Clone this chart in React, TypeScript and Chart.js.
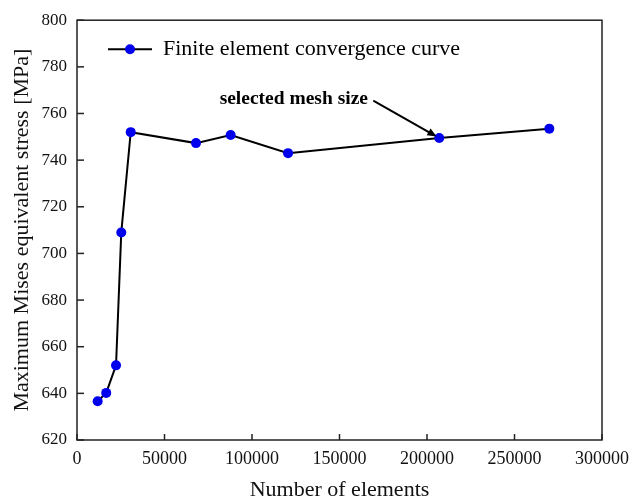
import React, { useEffect, useRef } from "react";
import { Chart, registerables } from "chart.js";

Chart.register(...registerables);

const elementCounts = [11800, 16700, 22300, 25300, 30700, 68000, 87800, 120600, 207000, 269900];
const stressValues = [636.6, 640.2, 652.0, 709.0, 752.0, 747.3, 750.8, 743.0, 749.5, 753.5];
const seriesLabel = "Finite element convergence curve";
const annotationText = "selected mesh size";
const annotationIndex = 8;
const annotationTextAt = { x: 81500, y: 764.2 };
const arrowStartAt = { x: 169300, y: 765.5 };
const xTitle = "Number of elements";
const yTitle = "Maximum Mises equivalent stress [MPa]";

const SERIF = "'Liberation Serif', 'Times New Roman', serif";

const framePlugin = {
  id: "frameAndExtras",
  afterDraw(chart: any) {
    const { ctx, chartArea, scales } = chart;
    const xs = scales.x;
    const ys = scales.y;
    ctx.save();
    ctx.strokeStyle = "#222";
    ctx.lineWidth = 1.5;
    ctx.strokeRect(chartArea.left, chartArea.top, chartArea.right - chartArea.left, chartArea.bottom - chartArea.top);
    // inward ticks
    ctx.lineWidth = 1.5;
    xs.ticks.forEach((t: any) => {
      const px = xs.getPixelForValue(t.value);
      ctx.beginPath();
      ctx.moveTo(px, chartArea.bottom);
      ctx.lineTo(px, chartArea.bottom - 6);
      ctx.stroke();
    });
    ys.ticks.forEach((t: any) => {
      const py = ys.getPixelForValue(t.value);
      ctx.beginPath();
      ctx.moveTo(chartArea.left, py);
      ctx.lineTo(chartArea.left + 7, py);
      ctx.stroke();
    });
    // legend
    const ly = chartArea.top + 29;
    const lx0 = chartArea.left + 31;
    ctx.strokeStyle = "#000";
    ctx.lineWidth = 2;
    ctx.beginPath();
    ctx.moveTo(lx0, ly);
    ctx.lineTo(lx0 + 44, ly);
    ctx.stroke();
    ctx.fillStyle = "#0000ee";
    ctx.beginPath();
    ctx.arc(lx0 + 22, ly, 5, 0, Math.PI * 2);
    ctx.fill();
    ctx.fillStyle = "#000";
    ctx.font = `22px ${SERIF}`;
    ctx.textBaseline = "middle";
    ctx.textAlign = "left";
    ctx.fillText(seriesLabel, lx0 + 55, ly);
    // annotation
    ctx.font = `bold 19.5px ${SERIF}`;
    ctx.textBaseline = "alphabetic";
    ctx.fillText(annotationText, xs.getPixelForValue(annotationTextAt.x), ys.getPixelForValue(annotationTextAt.y));
    const sx = xs.getPixelForValue(arrowStartAt.x);
    const sy = ys.getPixelForValue(arrowStartAt.y);
    const ex0 = xs.getPixelForValue(elementCounts[annotationIndex]);
    const ey0 = ys.getPixelForValue(stressValues[annotationIndex]);
    const ang = Math.atan2(ey0 - sy, ex0 - sx);
    const ex = ex0 - Math.cos(ang) * 3;
    const ey = ey0 - Math.sin(ang) * 3;
    ctx.strokeStyle = "#000";
    ctx.lineWidth = 2;
    ctx.beginPath();
    ctx.moveTo(sx, sy);
    ctx.lineTo(ex - Math.cos(ang) * 6, ey - Math.sin(ang) * 6);
    ctx.stroke();
    ctx.beginPath();
    ctx.moveTo(ex, ey);
    ctx.lineTo(ex - Math.cos(ang - 0.4) * 10, ey - Math.sin(ang - 0.4) * 10);
    ctx.lineTo(ex - Math.cos(ang + 0.4) * 10, ey - Math.sin(ang + 0.4) * 10);
    ctx.closePath();
    ctx.fill();
    ctx.restore();
  },
};

export default function App() {
  const canvasRef = useRef<HTMLCanvasElement | null>(null);
  useEffect(() => {
    if (!canvasRef.current) return;
    const chart = new Chart(canvasRef.current, {
      type: "line",
      data: {
        datasets: [
          {
            label: seriesLabel,
            data: elementCounts.map((x, i) => ({ x, y: stressValues[i] })),
            borderColor: "#000",
            borderWidth: 2,
            pointBackgroundColor: "#0000ee",
            pointBorderColor: "#0000ee",
            pointRadius: 5,
            pointBorderWidth: 0,
            tension: 0,
          },
        ],
      },
      options: {
        animation: false,
        responsive: true,
        maintainAspectRatio: false,
        layout: { padding: { left: 0, right: 40, top: 16, bottom: 0 } },
        plugins: { legend: { display: false }, tooltip: { enabled: false } },
        scales: {
          x: {
            type: "linear",
            min: 0,
            max: 300000,
            afterFit: (s: any) => { s.height = 64; },
            grid: { display: false, drawTicks: false },
            border: { display: false },
            ticks: {
              stepSize: 50000,
              padding: 8,
              color: "#111",
              font: { family: SERIF, size: 18 },
              maxRotation: 0,
              callback: (v: any) => String(v),
            },
            title: {
              display: true,
              text: xTitle,
              color: "#111",
              font: { family: SERIF, size: 22 },
              padding: { top: 0, bottom: 1 },
            },
          },
          y: {
            min: 620,
            max: 800,
            afterFit: (s: any) => { s.width = 77; },
            grid: { display: false, drawTicks: false },
            border: { display: false },
            ticks: {
              stepSize: 20,
              padding: 10,
              color: "#111",
              font: { family: SERIF, size: 17 },
            },
            title: {
              display: true,
              text: yTitle,
              color: "#111",
              font: { family: SERIF, size: 22 },
              padding: { top: 9, bottom: 0 },
            },
          },
        },
      },
      plugins: [framePlugin],
    } as any);
    return () => chart.destroy();
  }, []);
  return (
    <div style={{ position: "fixed", left: 0, top: 0, width: 642, height: 504, background: "#fff" }}>
      <canvas ref={canvasRef} />
    </div>
  );
}
